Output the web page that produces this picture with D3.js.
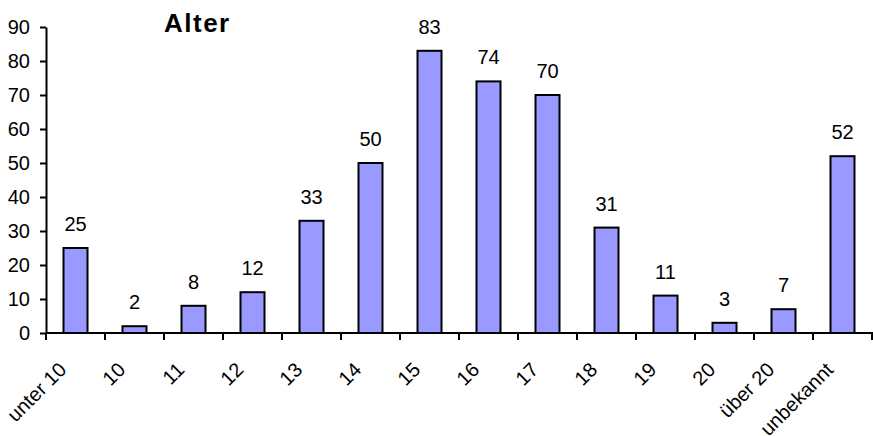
<!DOCTYPE html>
<html>
<head>
<meta charset="utf-8">
<script src="https://cdn.jsdelivr.net/npm/d3@7"></script>
<style>
  html, body { margin: 0; padding: 0; background: #fff; }
  svg { display: block; font-family: "Liberation Sans", Arial, Helvetica, sans-serif; }
</style>
</head>
<body>
<div id="chart"></div>
<script>
// Data
const categories = ["unter 10", "10", "11", "12", "13", "14", "15", "16", "17", "18", "19", "20", "über 20", "unbekannt"];
const values = [25, 2, 8, 12, 33, 50, 83, 74, 70, 31, 11, 3, 7, 52];
const yTicks = [0, 10, 20, 30, 40, 50, 60, 70, 80, 90];

const width = 873;
const height = 436;
const marginLeft = 46;
const marginTop = 27;
const baseline = 333;
const fontSize = 20;

const svg = d3.select("#chart")
  .append("svg")
  .attr("width", width)
  .attr("height", height);

// one slot per category, bars sit centered in each slot
const slot = d3.scaleBand()
  .domain(categories)
  .range([marginLeft, width - 1]);

const y = d3.scaleLinear()
  .domain([0, 90])
  .range([baseline, marginTop]);

const barWidth = 24;
const center = (c) => slot(c) + slot.bandwidth() / 2;

// bars
svg.append("g")
  .selectAll("rect")
  .data(values)
  .join("rect")
  .attr("x", (d, i) => center(categories[i]) - barWidth / 2)
  .attr("y", d => y(d))
  .attr("width", barWidth)
  .attr("height", d => baseline - y(d))
  .attr("fill", "#9999ff")
  .attr("stroke", "#000")
  .attr("stroke-width", 2);

// value labels
svg.append("g")
  .selectAll("text")
  .data(values)
  .join("text")
  .attr("x", (d, i) => center(categories[i]))
  .attr("y", d => y(d) - 17)
  .attr("text-anchor", "middle")
  .attr("font-size", fontSize)
  .text(d => d);

// y axis
const yAxis = svg.append("g")
  .attr("transform", `translate(${marginLeft},0)`)
  .call(d3.axisLeft(y).tickValues(yTicks).tickSize(6).tickPadding(10).tickSizeOuter(0));
yAxis.select(".domain").attr("stroke-width", 2);
yAxis.selectAll(".tick line").attr("stroke-width", 2);
yAxis.selectAll(".tick text")
  .attr("font-size", fontSize)
  .attr("font-family", "Liberation Sans, Arial, sans-serif")
  .attr("fill", "#000");

// x axis: line with tick marks at slot boundaries
const xg = svg.append("g");
xg.append("line")
  .attr("x1", marginLeft)
  .attr("x2", width)
  .attr("y1", baseline)
  .attr("y2", baseline)
  .attr("stroke", "#000")
  .attr("stroke-width", 2);

const bounds = categories.map(c => slot(c)).concat([slot.range()[1]]);
xg.selectAll("line.tick")
  .data(bounds)
  .join("line")
  .attr("class", "tick")
  .attr("x1", d => d)
  .attr("x2", d => d)
  .attr("y1", baseline)
  .attr("y2", baseline + 7)
  .attr("stroke", "#000")
  .attr("stroke-width", 2);

xg.selectAll("text")
  .data(categories)
  .join("text")
  .attr("transform", d => `translate(${center(d) - 8},${baseline + 38}) rotate(-45)`)
  .attr("text-anchor", "end")
  .attr("font-size", fontSize)
  .text(d => d);

// title
svg.append("text")
  .attr("x", 164)
  .attr("y", 32)
  .attr("font-size", 26)
  .attr("font-weight", "bold")
  .attr("letter-spacing", 1.5)
  .text("Alter");
</script>
</body>
</html>
